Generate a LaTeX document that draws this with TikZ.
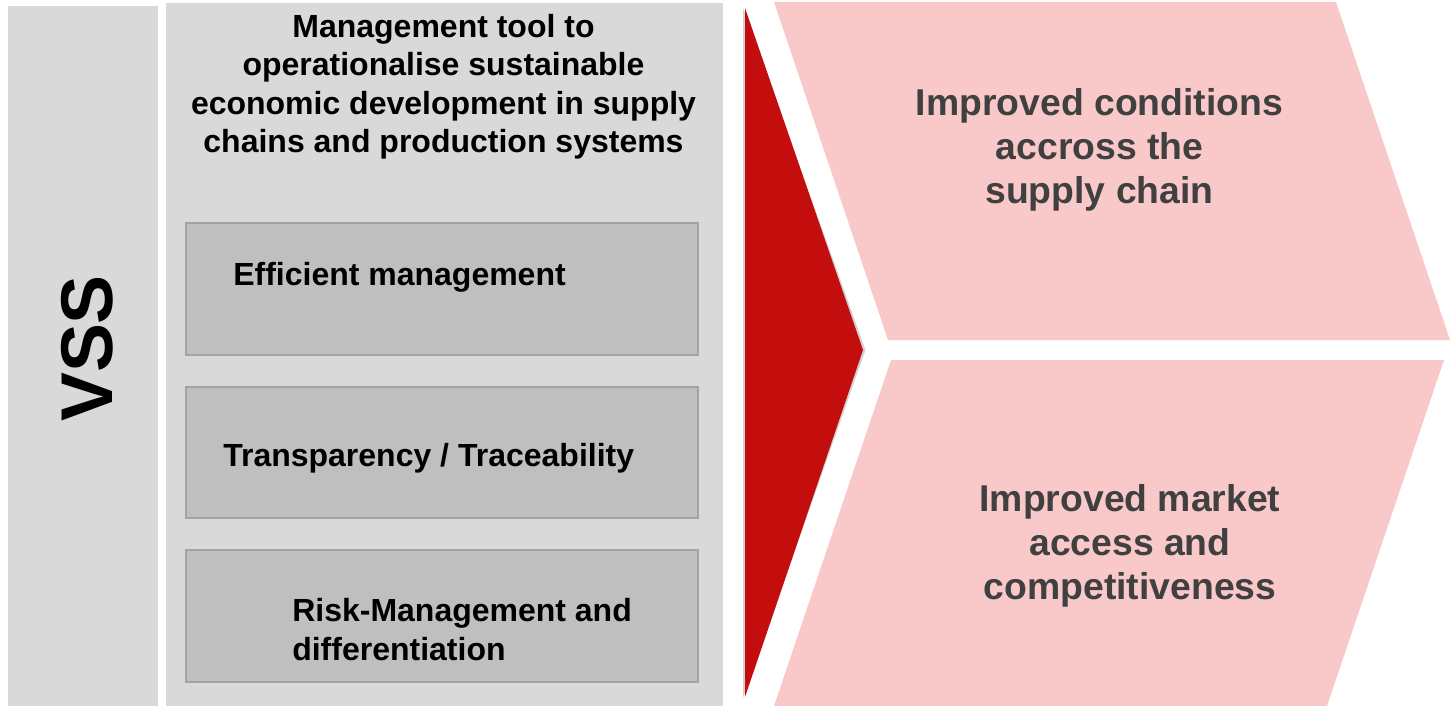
\documentclass[tikz,border=0pt]{standalone}
\usepackage{fontspec}
\setmainfont{Liberation Sans}
\definecolor{panelgray}{HTML}{D9D9D9}
\definecolor{boxgray}{HTML}{BFBFBF}
\definecolor{boxline}{HTML}{A3A3A3}
\definecolor{vssred}{HTML}{C40E0E}
\definecolor{pinkfill}{HTML}{F9C8C8}
\definecolor{darktext}{HTML}{404040}
\definecolor{shadowgray}{HTML}{D2D2D2}
\tikzset{
  panel/.style={fill=panelgray, draw=none},
  subbox/.style={fill=boxgray, draw=boxline, line width=1.1pt},
  boxtext/.style={font=\fontsize{24pt}{29.2pt}\selectfont\bfseries, text=black, inner sep=0pt},
  titletext/.style={font=\fontsize{24pt}{28.8pt}\selectfont\bfseries, text=black, inner sep=0pt, align=center},
  pinktext/.style={font=\fontsize{28pt}{33.2pt}\selectfont\bfseries, text=darktext, inner sep=0pt, align=center},
}
\begin{document}
\begin{tikzpicture}[x=0.75pt, y=-0.75pt]
\useasboundingbox (0,0) rectangle (1450,706);
% left VSS panel
\fill[panelgray] (8,6) rectangle (158,706);
\node[font=\fontsize{55pt}{60pt}\selectfont\bfseries, rotate=90, inner sep=0pt] (vss) at (87.5,348.5) {VSS};
% middle panel
\fill[panelgray] (166,3) rectangle (723,706);
\node[titletext, anchor=north] (title) at (443.5,14) {Management tool to\\operationalise sustainable\\economic development in supply\\chains and production systems};
% sub boxes
\draw[subbox] (186,223) rectangle (698,355);
\draw[subbox] (186,387) rectangle (698,518);
\draw[subbox] (186,550) rectangle (698,682);
\node[boxtext, anchor=base west] (t1) at (233,285) {Efficient management};
\node[boxtext, anchor=base west] (t2) at (223,466) {Transparency / Traceability};
\node[boxtext, anchor=north west, align=left] (t3) at (292,598.5) {Risk-Management and\\differentiation};
% red arrow with faint shadow
\fill[shadowgray] (743,8) -- (865.5,350) -- (743,698) -- cycle;
\fill[vssred] (745,8) -- (863,350) -- (745,697) -- cycle;
% pink chevrons
\fill[pinkfill] (774,2) -- (1336,2) -- (1450,340) -- (888,340) -- cycle;
\fill[pinkfill] (891,360) -- (1444,360) -- (1327,706) -- (774,706) -- cycle;
\node[pinktext, anchor=north] (p1) at (1099.5,88) {Improved conditions\\accross the\\supply chain};
\node[pinktext, anchor=north] (p2) at (1130,484) {Improved market\\access and\\competitiveness};
\end{tikzpicture}
\end{document}
